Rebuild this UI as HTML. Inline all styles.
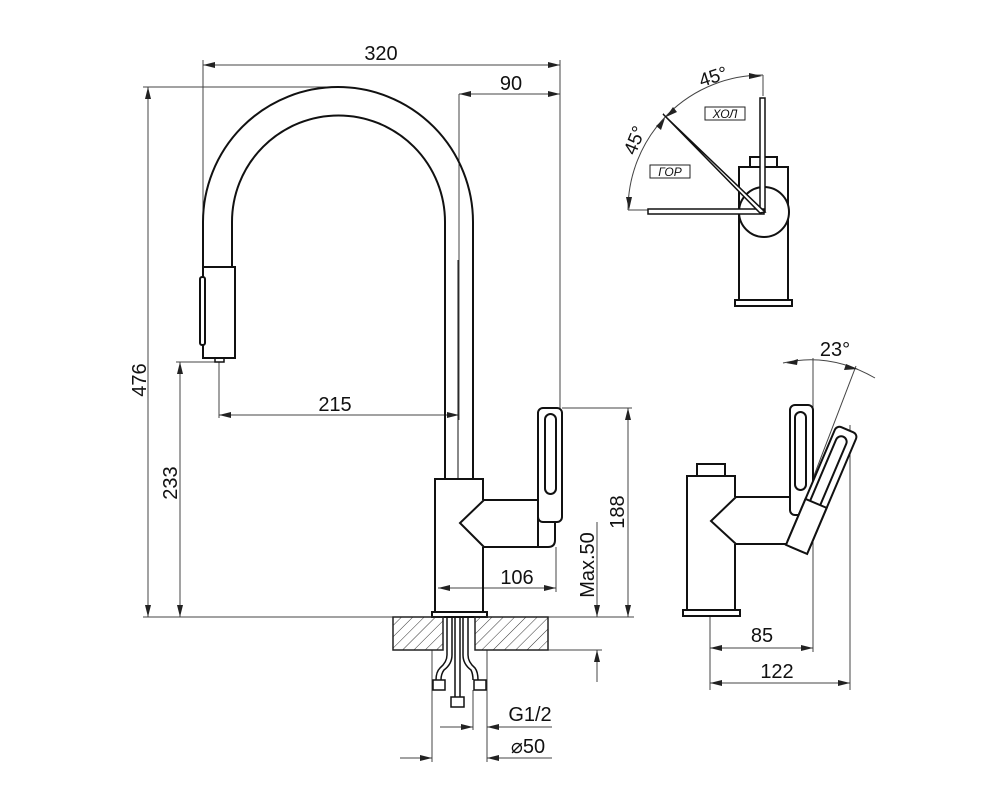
<!DOCTYPE html>
<html><head><meta charset="utf-8"><style>
html,body{margin:0;padding:0;background:#fff;}
svg{display:block;}
text{font-family:"Liberation Sans",sans-serif;fill:#111;}
</style></head><body>
<svg width="999" height="800" viewBox="0 0 999 800" xmlns="http://www.w3.org/2000/svg">
<defs>
<marker id="a" viewBox="0 0 12 6" refX="12" refY="3" markerWidth="12" markerHeight="6" orient="auto-start-reverse" markerUnits="userSpaceOnUse">
<path d="M0,0 L12,3 L0,6 Z" fill="#222"/></marker>
<pattern id="h" width="8" height="8" patternUnits="userSpaceOnUse" patternTransform="rotate(45)">
<line x1="0" y1="0" x2="0" y2="8" stroke="#333" stroke-width="1"/></pattern>
</defs>

<g stroke="#444" stroke-width="1" fill="none">
<line x1="203" y1="60" x2="203" y2="260"/>
<line x1="560" y1="60" x2="560" y2="410"/>
<line x1="203" y1="65" x2="560" y2="65" marker-start="url(#a)" marker-end="url(#a)"/>
<line x1="459" y1="94" x2="459" y2="420"/>
<line x1="459" y1="94" x2="560" y2="94" marker-start="url(#a)" marker-end="url(#a)"/>
<line x1="143" y1="87" x2="338" y2="87"/>
<line x1="148" y1="87" x2="148" y2="617" marker-start="url(#a)" marker-end="url(#a)"/>
<line x1="176" y1="362" x2="216" y2="362"/>
<line x1="180" y1="362" x2="180" y2="617" marker-start="url(#a)" marker-end="url(#a)"/>
<line x1="219" y1="362" x2="219" y2="418"/>
<line x1="219" y1="415" x2="459" y2="415" marker-start="url(#a)" marker-end="url(#a)"/>
<line x1="143" y1="617" x2="634" y2="617"/>
<line x1="562" y1="408" x2="632" y2="408"/>
<line x1="628" y1="408" x2="628" y2="617" marker-start="url(#a)" marker-end="url(#a)"/>
<line x1="556" y1="547" x2="556" y2="592"/>
<line x1="438" y1="588" x2="556" y2="588" marker-start="url(#a)" marker-end="url(#a)"/>
<line x1="548" y1="650" x2="602" y2="650"/>
<line x1="597" y1="522" x2="597" y2="617" marker-end="url(#a)"/>
<line x1="597" y1="650" x2="597" y2="682" marker-start="url(#a)"/>
<line x1="473" y1="690" x2="473" y2="730"/>
<line x1="487" y1="650" x2="487" y2="762"/>
<line x1="432" y1="650" x2="432" y2="762"/>
<line x1="440" y1="727" x2="473" y2="727" marker-end="url(#a)"/>
<line x1="487" y1="727" x2="552" y2="727" marker-start="url(#a)"/>
<line x1="400" y1="758" x2="432" y2="758" marker-end="url(#a)"/>
<line x1="487" y1="758" x2="552" y2="758" marker-start="url(#a)"/>
<line x1="710" y1="612" x2="710" y2="690"/>
<line x1="813" y1="358" x2="813" y2="652"/>
<line x1="850" y1="425" x2="850" y2="690"/>
<line x1="710" y1="648" x2="813" y2="648" marker-start="url(#a)" marker-end="url(#a)"/>
<line x1="710" y1="683" x2="850" y2="683" marker-start="url(#a)" marker-end="url(#a)"/>
<line x1="797" y1="520" x2="856" y2="366"/>
<path d="M783,363 Q830,352 875,378"/>
<path d="M628,210 A135,135 0 0 1 763,75"/>
<line x1="763" y1="75" x2="763" y2="96"/>
<line x1="628" y1="210" x2="648" y2="210"/>
</g>
<g fill="#222">
<path d="M786,363 l12,-4 l-1,6z"/><path d="M858,369 l-12,-5 l-2,6z"/>
<path d="M762,76 l-13,-3 v6z"/><path d="M629,210 l-3,-13 l6,0z"/>
<path d="M666,117 l7,-10 l4,5z"/><path d="M665,118 l-4,12 l-5,-4z"/>
</g>

<g stroke="#111" stroke-width="2" fill="none">
<path d="M203,267 L203,222 A135,135 0 0 1 473,222 L473,479"/>
<path d="M232,267 L232,222 A106.5,106.5 0 0 1 445,222 L445,479"/>
<rect x="203" y="267" width="32" height="91" fill="#fff"/>
<rect x="200" y="277" width="5" height="68" rx="2" fill="#fff"/>
<rect x="215" y="358" width="9" height="4" stroke-width="1.5"/>
<path d="M483,500 L483,479 L435,479 L435,612 L483,612 L483,547"/>
<path d="M483,500 L548,500 Q555,500 555,507 L555,540 Q555,547 548,547 L483,547"/>
<path d="M484,500 L460,523 L484,547" />
<line x1="538" y1="500" x2="538" y2="547"/>
<rect x="432" y="612" width="55" height="5" fill="#fff"/>
<rect x="538" y="408" width="24" height="114" rx="5" fill="#fff"/>
<rect x="545" y="414" width="11" height="80" rx="5.5"/>
</g>
<g stroke="#111" stroke-width="1" fill="none"><line x1="458" y1="260" x2="458" y2="479"/></g>

<rect x="393" y="617" width="50" height="33" fill="url(#h)" stroke="#222" stroke-width="1.5"/>
<rect x="475" y="617" width="73" height="33" fill="url(#h)" stroke="#222" stroke-width="1.5"/>
<g stroke="#111" stroke-width="1.5" fill="none">
<path d="M447,617 V655 Q447,662 440,668 Q436,672 436,680"/>
<path d="M452,617 V655 Q452,664 444,670 Q441,674 441,680"/>
<path d="M468,617 V655 Q468,662 475,668 Q478,672 478,680"/>
<path d="M463,617 V655 Q463,664 471,670 Q473,674 473,680"/>
<line x1="455" y1="617" x2="455" y2="697"/><line x1="460" y1="617" x2="460" y2="697"/>
<rect x="433" y="680" width="12" height="10" fill="#fff"/>
<rect x="474" y="680" width="12" height="10" fill="#fff"/>
<rect x="451" y="697" width="13" height="10" fill="#fff"/>
</g>

<g stroke="#111" stroke-width="2" fill="#fff">
<rect x="739" y="167" width="49" height="133"/>
<rect x="750" y="157" width="27" height="10"/>
<rect x="735" y="300" width="57" height="6"/>
<circle cx="764" cy="212" r="25"/>
<rect x="760" y="98" width="5" height="114" stroke-width="1.5"/>
<rect x="648" y="209" width="116" height="5" stroke-width="1.5"/>
<polygon points="663,114 667,118 765,212 760,213" stroke-width="1.5"/>
</g>
<rect x="705" y="107" width="40" height="13" fill="#fff" stroke="#222" stroke-width="1"/>
<text x="725" y="118" font-size="12" font-style="italic" text-anchor="middle">ХОЛ</text>
<rect x="650" y="165" width="40" height="13" fill="#fff" stroke="#222" stroke-width="1"/>
<text x="670" y="176" font-size="12" font-style="italic" text-anchor="middle">ГОР</text>
<text x="713" y="83" font-size="19" text-anchor="middle" transform="rotate(-18 713 76)">45°</text>
<text x="634" y="147" font-size="19" text-anchor="middle" transform="rotate(-68 634 140)">45°</text>

<g stroke="#111" stroke-width="2" fill="#fff">
<rect x="697" y="464" width="28" height="12"/>
<path d="M735,497 L735,476 L687,476 L687,610 L735,610 L735,544"/>
<path d="M735,497 L798,497 M735,544 L798,544" fill="none"/>
<path d="M736,497 L711,521 L736,544" fill="none"/>
<rect x="683" y="610" width="57" height="6"/>
<rect x="790" y="405" width="23" height="110" rx="5"/>
<rect x="795" y="412" width="11" height="78" rx="5.5" fill="none"/>
<g transform="rotate(23 800 540)">
<rect x="789" y="420" width="23" height="130" rx="5"/>
<rect x="794" y="428" width="11" height="90" rx="5.5" fill="none"/>
<rect x="789" y="500" width="23" height="50"/>
</g>
</g>

<g font-size="20">
<text x="381" y="60" text-anchor="middle">320</text>
<text x="511" y="90" text-anchor="middle">90</text>
<text x="335" y="411" text-anchor="middle">215</text>
<text x="517" y="584" text-anchor="middle">106</text>
<text x="530" y="721" text-anchor="middle">G1/2</text>
<text x="528" y="753" text-anchor="middle">⌀50</text>
<text x="835" y="356" text-anchor="middle">23°</text>
<text x="762" y="642" text-anchor="middle">85</text>
<text x="777" y="678" text-anchor="middle">122</text>
<text x="0" y="0" text-anchor="middle" transform="translate(146,380) rotate(-90)">476</text>
<text x="0" y="0" text-anchor="middle" transform="translate(177,483) rotate(-90)">233</text>
<text x="0" y="0" text-anchor="middle" transform="translate(624,512) rotate(-90)">188</text>
<text x="0" y="0" text-anchor="middle" transform="translate(594,565) rotate(-90)">Max.50</text>
</g>
</svg>
</body></html>
